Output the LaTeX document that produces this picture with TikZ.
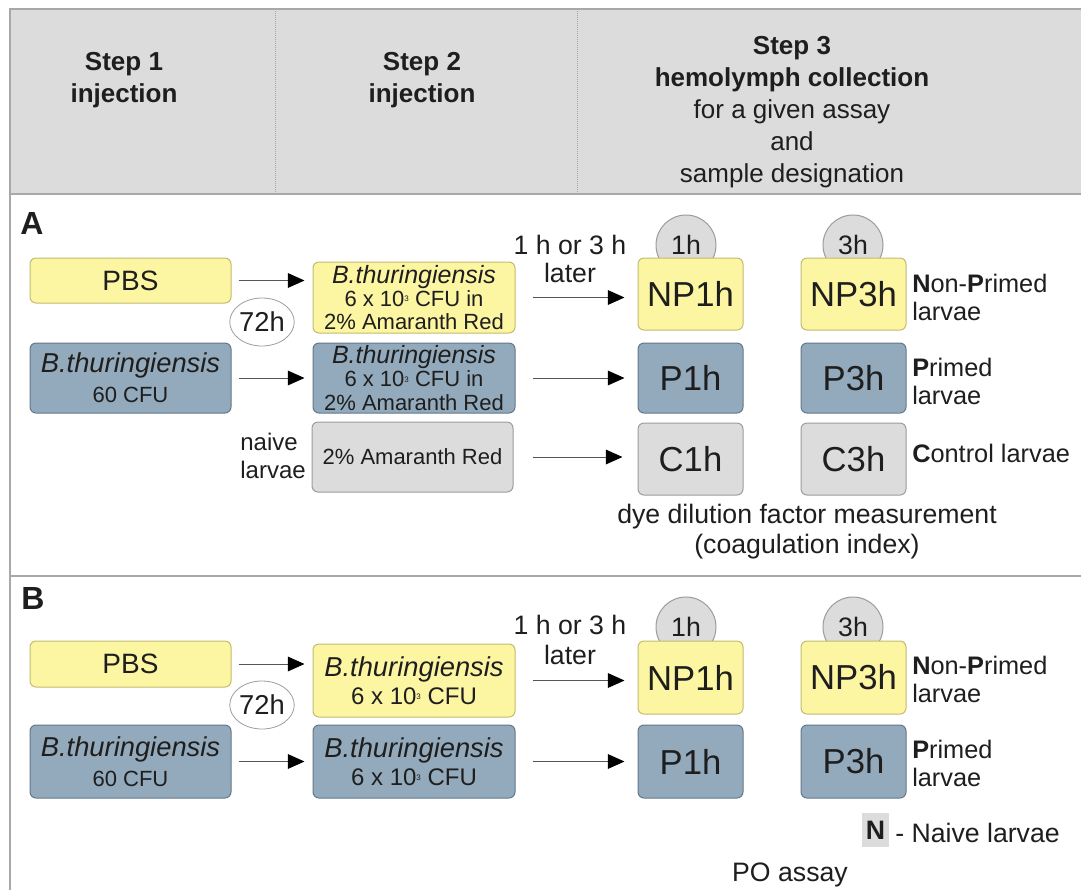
\documentclass[tikz,border=0pt]{standalone}
\usepackage{fontspec}
\setmainfont{Liberation Sans}
\usetikzlibrary{arrows.meta,shapes.geometric}
\definecolor{hdr}{HTML}{DCDCDC}
\definecolor{ylw}{HTML}{FCF5A2}
\definecolor{ylwb}{HTML}{C2BA6E}
\definecolor{blu}{HTML}{93AABC}
\definecolor{blub}{HTML}{62788A}
\definecolor{gry}{HTML}{DCDCDC}
\definecolor{gryb}{HTML}{9C9C9C}
\definecolor{tcol}{HTML}{1E1E1E}
\definecolor{lne}{HTML}{A8A8A8}
\definecolor{acol}{HTML}{555555}
\newcommand{\mysz}[2]{\fontsize{#1}{#2}\selectfont}
\newcommand{\cubed}{{\fontsize{6}{6}\selectfont\raisebox{1.1ex}{3}}}
\tikzset{
  boxbase/.style={rounded corners=4.5pt, line width=0.75pt, text=tcol, align=center, inner sep=0pt},
  ybox/.style={boxbase, draw=ylwb, fill=ylw},
  bbox/.style={boxbase, draw=blub, fill=blu},
  gbox/.style={boxbase, draw=gryb, fill=gry},
  wone/.style={minimum width=150.75pt},
  wthree/.style={minimum width=78.75pt},
  arr/.style={draw=acol, line width=0.75pt, -{Triangle[length=12.5pt,width=11pt,color=black]}},
  lbl/.style={text=tcol, inner sep=0pt, align=center},
  hd/.style={lbl, font={\mysz{19.5}{24}}},
  tcirc/.style={circle, draw=gryb, fill=gry, line width=0.75pt, minimum size=45pt, inner sep=0pt, text=tcol, font={\mysz{20}{20}}},
  wcirc/.style={ellipse, draw=gryb, fill=white, line width=0.6pt, minimum width=42pt, minimum height=36pt, inner sep=0pt, text=tcol, font={\mysz{20.5}{20.5}}},
  big/.style={font={\mysz{26}{26}}},
  side/.style={lbl, anchor=west, align=left, font={\mysz{19}{21}}},
}
\begin{document}
\begin{tikzpicture}[x=0.75pt,y=-0.75pt]
\useasboundingbox (0,0) rectangle (1081,890);
% header
\fill[hdr] (10,9) rectangle (1081,194);
\draw[lne, line width=1.2pt] (1081,9) -- (10,9) -- (10,890);
\draw[lne, line width=1.5pt] (10,194) -- (1081,194);
\draw[lne, line width=1.2pt] (10,576) -- (1081,576);
\draw[lne, densely dotted, line width=0.5pt] (275,9) -- (275,194);
\draw[lne, densely dotted, line width=0.5pt] (577,9) -- (577,194);
\node[hd] (h1) at (124,80) {\textbf{Step 1}\\\textbf{injection}};
\node[hd] (h2) at (422,80) {\textbf{Step 2}\\\textbf{injection}};
\node[hd] (h3) at (792,112) {\textbf{Step 3}\\\textbf{hemolymph collection}\\for a given assay\\and\\sample designation};
% section labels
\node[lbl, font={\bfseries\mysz{24}{24}}] (lA) at (32,223) {A};
\node[lbl, font={\bfseries\mysz{24}{24}}] (lB) at (33,598) {B};

% ===== Section A =====
\node[ybox, wone, minimum height=33.75pt, font={\mysz{21}{21}}] (pbsA) at (130.5,280.5) {PBS};
\node[bbox, wone, minimum height=52.5pt, font={\mysz{16.5}{22.5}}] (btA) at (130.5,378) {{\itshape\mysz{20.5}{22.5}B.thuringiensis}\\60 CFU};
\node[ybox, minimum width=151.5pt, minimum height=53.25pt, font={\mysz{16.5}{17.5}}] (s2yA) at (414,297.5) {{\itshape\mysz{18.75}{17.5}B.thuringiensis}\\6 x 10\cubed{} CFU in\\2\% Amaranth Red};
\node[bbox, minimum width=151.5pt, minimum height=52.5pt, font={\mysz{16.5}{17.5}}] (s2bA) at (414,378) {{\itshape\mysz{18.75}{17.5}B.thuringiensis}\\6 x 10\cubed{} CFU in\\2\% Amaranth Red};
\node[gbox, wone, minimum height=52.5pt, font={\mysz{16.5}{16.5}}] (s2gA) at (412.5,457) {2\% Amaranth Red};
\node[wcirc] (t72A) at (262,322) {72h};
\node[lbl, anchor=east, align=left, font={\mysz{18}{21}}] (naive) at (306,456) {naive\\larvae};
\node[lbl, font={\mysz{20}{21}}] (laterA) at (570,259) {1 h or 3 h\\later};
\node[tcirc] (c1A) at (686,245) {1h};
\node[tcirc] (c3A) at (853,245) {3h};
\node[ybox, wthree, minimum height=54pt, big] (np1A) at (690.5,294) {NP1h};
\node[ybox, wthree, minimum height=54pt, big] (np3A) at (853.5,294) {NP3h};
\node[bbox, wthree, minimum height=52.5pt, big] (p1A) at (690.5,378) {P1h};
\node[bbox, wthree, minimum height=52.5pt, big] (p3A) at (853.5,378) {P3h};
\node[gbox, wthree, minimum height=54pt, big] (cc1A) at (690.5,459) {C1h};
\node[gbox, wthree, minimum height=54pt, big] (cc3A) at (853.5,459) {C3h};
\node[side] (npA) at (912,297.5) {\textbf{N}on-\textbf{P}rimed\\larvae};
\node[side] (prA) at (912,381) {\textbf{P}rimed\\larvae};
\node[side] (ctA) at (912,453) {\textbf{C}ontrol larvae};
\node[lbl, font={\mysz{20}{22.5}}] (dye) at (807,532) {dye dilution factor measurement\\(coagulation index)};
\draw[arr, shorten <=5.25pt, shorten >=6pt] (pbsA.east) -- (pbsA.east -| s2yA.west);
\draw[arr, shorten <=5.25pt, shorten >=6pt] (btA.east) -- (btA.east -| s2bA.west);
\draw[arr, shorten <=12.75pt, shorten >=9.75pt] (s2yA.east) -- (s2yA.east -| np1A.west);
\draw[arr, shorten <=12.75pt, shorten >=9.75pt] (s2bA.east) -- (s2bA.east -| p1A.west);
\draw[arr, shorten <=14.25pt, shorten >=11.25pt] (s2gA.east) -- (s2gA.east -| cc1A.west);

% ===== Section B =====
\node[ybox, wone, minimum height=34.5pt, font={\mysz{21}{21}}] (pbsB) at (130.5,664) {PBS};
\node[bbox, wone, minimum height=54.75pt, font={\mysz{16.5}{22.5}}] (btB) at (130.5,761.5) {{\itshape\mysz{20.5}{22.5}B.thuringiensis}\\60 CFU};
\node[ybox, minimum width=151.5pt, minimum height=54.75pt, font={\mysz{18}{21}}] (s2yB) at (414,680.5) {{\itshape\mysz{20.5}{21}B.thuringiensis}\\6 x 10\cubed{} CFU};
\node[bbox, minimum width=151.5pt, minimum height=54.75pt, font={\mysz{18}{21}}] (s2bB) at (414,761.5) {{\itshape\mysz{20.5}{21}B.thuringiensis}\\6 x 10\cubed{} CFU};
\node[wcirc] (t72B) at (262,705) {72h};
\node[lbl, font={\mysz{20}{22.5}}] (laterB) at (570,640) {1 h or 3 h\\later};
\node[tcirc] (c1B) at (686,627) {1h};
\node[tcirc] (c3B) at (853,627) {3h};
\node[ybox, wthree, minimum height=54.75pt, big] (np1B) at (690.5,677.5) {NP1h};
\node[ybox, wthree, minimum height=54.75pt, big] (np3B) at (853.5,677.5) {NP3h};
\node[bbox, wthree, minimum height=54.75pt, big] (p1B) at (690.5,761.5) {P1h};
\node[bbox, wthree, minimum height=54.75pt, big] (p3B) at (853.5,761.5) {P3h};
\node[side] (npB) at (912,679) {\textbf{N}on-\textbf{P}rimed\\larvae};
\node[side] (prB) at (912,763) {\textbf{P}rimed\\larvae};
\node[fill=gry, minimum width=20.25pt, minimum height=25.5pt, inner sep=0pt, text=tcol, font={\bfseries\mysz{20}{20}}] (nbox) at (875.5,830) {N};
\node[lbl, anchor=west, font={\mysz{20}{20}}] (nlab) at (895,833) {- Naive larvae};
\node[lbl, font={\mysz{20}{20}}] (po) at (790,875) {PO assay};
\draw[arr, shorten <=5.25pt, shorten >=6pt] (pbsB.east) -- (pbsB.east -| s2yB.west);
\draw[arr, shorten <=5.25pt, shorten >=6pt] (btB.east) -- (btB.east -| s2bB.west);
\draw[arr, shorten <=12.75pt, shorten >=9.75pt] (s2yB.east) -- (s2yB.east -| np1B.west);
\draw[arr, shorten <=12.75pt, shorten >=9.75pt] (s2bB.east) -- (s2bB.east -| p1B.west);
\end{tikzpicture}
\end{document}
